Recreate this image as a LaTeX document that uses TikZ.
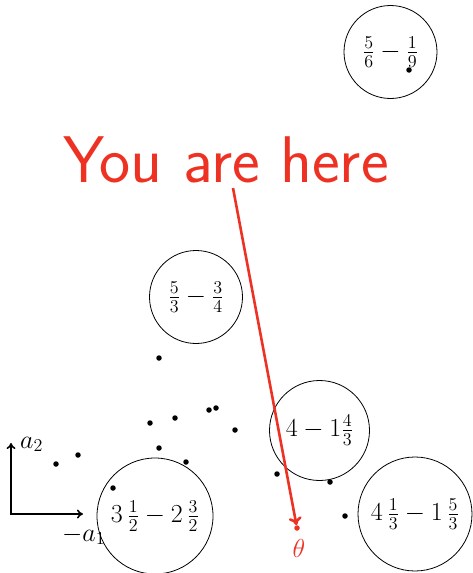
\documentclass[tikz,border=0pt]{standalone}
\usetikzlibrary{arrows.meta}
\definecolor{here}{RGB}{237,50,36}
\newcommand{\bigmath}[1]{\scalebox{1.254}{$#1$}}
\begin{document}
\begin{tikzpicture}[x=1pt,y=-1pt,
  dot/.style={circle,fill=black,inner sep=0pt,minimum size=5.5pt},
  ring/.style={circle,draw,line width=0.8pt,inner sep=0pt,font=\fontsize{20.74}{24}\selectfont},
  lbl/.style={inner sep=0pt,anchor=base west,font=\fontsize{20.74}{24}\selectfont},
  axis/.style={line width=1.6pt,{To[length=6pt,width=9pt]}-{To[length=6pt,width=9pt]}},
  pointer/.style={here,line width=2.6pt,-{To[length=8pt,width=13pt]}}]
\useasboundingbox (0,0) rectangle (472,573);
% circles
\node[ring,minimum size=93pt] (c1) at (390.5,52) {\bigmath{\frac{5}{6}-\frac{1}{9}}};
\node[ring,minimum size=93pt] (c2) at (196,297) {\bigmath{\frac{5}{3}-\frac{3}{4}}};
\node[ring,minimum size=100pt] (c3) at (319.5,430.5) {\bigmath{4-1\frac{4}{3}}};
\node[ring,minimum size=114pt] (c4) at (415,514) {\bigmath{4\,\frac{1}{3}-1\,\frac{5}{3}}};
\node[ring,minimum size=116pt] (c5) at (155,516) {\bigmath{3\,\frac{1}{2}-2\,\frac{3}{2}}};
% dots
\node[dot] (d1) at (159,358) {};
\node[dot] (d2) at (150,423) {};
\node[dot] (d3) at (175,418) {};
\node[dot] (d4) at (209,410) {};
\node[dot] (d5) at (216,408) {};
\node[dot] (d6) at (235,430) {};
\node[dot] (d7) at (159,448) {};
\node[dot] (d8) at (186,462) {};
\node[dot] (d9) at (56,464) {};
\node[dot] (d10) at (78,455) {};
\node[dot] (d11) at (113,488) {};
\node[dot] (d12) at (277,474) {};
\node[dot] (d13) at (330,482) {};
\node[dot] (d14) at (345,516) {};
\node[dot] (d15) at (409,70) {};
% axes
\coordinate (ya) at (11,443);
\coordinate (o) at (11,514);
\coordinate (xa) at (83,514);
\draw[axis] (ya) -- (o) -- (xa);
\node[lbl] (la2) at (20,448) {\bigmath{a_2}};
\node[lbl] (la1) at (62,541) {\bigmath{-a_1}};
% you are here
\node[here,inner sep=0pt,font=\fontsize{66}{72}\sffamily] (yah) at (226,160) {You are here};
\coordinate (start) at (233,188);
\node[dot,fill=here] (th) at (297,528) {};
\node[here,inner sep=0pt,font=\fontsize{20.74}{24}\selectfont] (thl) at (299,548) {\bigmath{\theta}};
\draw[pointer] (start) -- (th);
\end{tikzpicture}
\end{document}
